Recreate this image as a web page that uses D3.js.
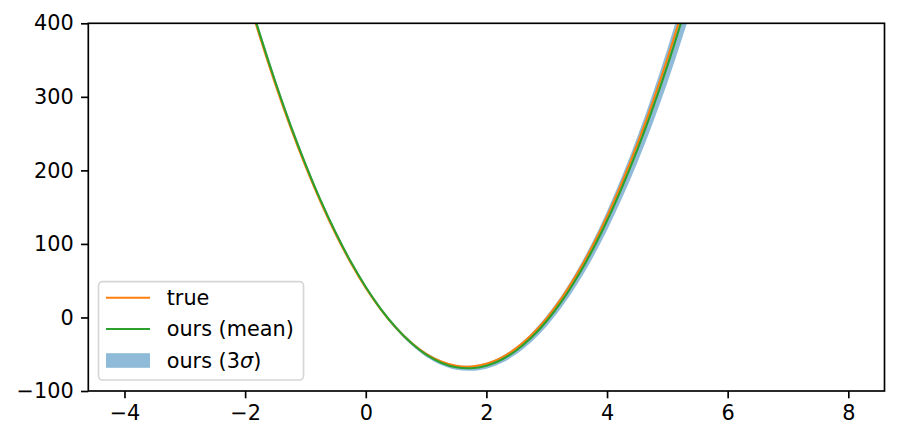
<!DOCTYPE html>
<html>
<head>
<meta charset="utf-8">
<script src="https://cdn.jsdelivr.net/npm/d3@7"></script>
<style>
  html, body { margin: 0; padding: 0; background: #fff; }
  svg { display: block; font-family: "DejaVu Sans", sans-serif; }
</style>
</head>
<body>
<svg id="chart" width="899" height="442"></svg>
<script>
// ---- data ----
const xs = [-2.0,-1.75,-1.5,-1.25,-1.0,-0.75,-0.5,-0.25,0,0.25,0.5,0.75,1.0,1.25,1.5,1.75,2.0,2.25,2.5,2.75,3.0,3.25,3.5,3.75,4.0,4.25,4.5,4.75,5.0,5.25,5.5];
const trueY = [447.6,380.1,317.3,259.2,205.9,157.4,113.6,74.5,40.2,10.7,-14.1,-34.1,-49.4,-60.0,-65.8,-66.8,-63.1,-54.7,-41.4,-23.5,-0.8,26.7,58.9,95.8,137.5,184.0,235.2,291.2,351.8,417.3,487.5];
const meanY = [451,383.5,320.5,262,208.5,159.5,115.5,76,41.5,11.5,-13.8,-34.5,-50.5,-61.5,-67.8,-69.0,-65.6,-57.5,-44.6,-27.0,-4.8,22.2,54.0,90.3,131.5,177.3,227.5,282.5,342.0,407.0,476.0];
const band3 = [6,5,4.5,4,3.5,3,2.8,2.5,2.4,2.4,2.5,2.6,2.8,3,3.2,3.5,4,4.5,5.2,6,7,8,9.5,11,13,15,17.5,20,23,26,29];
const xTicks = [-4,-2,0,2,4,6,8];
const yTicks = [-100,0,100,200,300,400];
const legendLabels = ["true","ours (mean)","ours (3σ)"];

// ---- layout ----
const svg = d3.select("#chart");
const L = 88.3, R = 884.5, T = 23.3, B = 391;
const fs = 20.8;
const x = d3.scaleLinear().domain([-4.6, 8.6]).range([L, R]);
const y = d3.scaleLinear().domain([-100, 400]).range([B, T]);

const C_TRUE = "#ff7f0e", C_MEAN = "#2ca02c", C_BAND = "#1f77b4";

svg.append("defs").append("clipPath").attr("id","clip")
  .append("rect").attr("x", L).attr("y", T).attr("width", R - L).attr("height", B - T);

const pts = xs.map((v, i) => ({x: v, t: trueY[i], m: meanY[i], s: band3[i]}));
const plot = svg.append("g").attr("clip-path", "url(#clip)");
const curve = d3.curveCatmullRom.alpha(0.5);

plot.append("path").datum(pts)
  .attr("d", d3.area().curve(curve)
    .x(d => x(d.x)).y0(d => y(d.m - d.s)).y1(d => y(d.m + d.s)))
  .attr("fill", C_BAND).attr("fill-opacity", 0.5).attr("stroke", "none");

plot.append("path").datum(pts)
  .attr("d", d3.line().curve(curve).x(d => x(d.x)).y(d => y(d.t)))
  .attr("fill", "none").attr("stroke", C_TRUE).attr("stroke-width", 2.1);

plot.append("path").datum(pts)
  .attr("d", d3.line().curve(curve).x(d => x(d.x)).y(d => y(d.m)))
  .attr("fill", "none").attr("stroke", C_MEAN).attr("stroke-width", 2.1);

// ---- axes ----
const xAxis = d3.axisBottom(x).tickValues(xTicks).tickSize(7.3).tickPadding(7.3)
  .tickFormat(d => d < 0 ? "\u2212" + Math.abs(d) : String(d));
const yAxis = d3.axisLeft(y).tickValues(yTicks).tickSize(7.3).tickPadding(7.3)
  .tickFormat(d => d < 0 ? "\u2212" + Math.abs(d) : String(d));

const gx = svg.append("g").attr("transform", `translate(0,${B})`).call(xAxis);
const gy = svg.append("g").attr("transform", `translate(${L},0)`).call(yAxis);
[gx, gy].forEach(g => {
  g.select(".domain").remove();
  g.selectAll(".tick line").attr("stroke", "#000").attr("stroke-width", 1.67);
  g.selectAll(".tick text").attr("fill", "#000").attr("font-size", fs)
    .attr("font-family", "DejaVu Sans");
});

// frame
svg.append("rect").attr("x", L).attr("y", T).attr("width", R - L).attr("height", B - T)
  .attr("fill", "none").attr("stroke", "#000").attr("stroke-width", 1.67);

// ---- legend ----
const lg = svg.append("g");
lg.append("rect").attr("x", 98.5).attr("y", 281.7).attr("width", 205).attr("height", 98.3)
  .attr("rx", 4).attr("fill", "#fff").attr("fill-opacity", 0.8)
  .attr("stroke", "#d6d6d6").attr("stroke-width", 1.67);
const rowY = [297.7, 329, 360.5];
lg.append("line").attr("x1", 106).attr("x2", 150).attr("y1", rowY[0]).attr("y2", rowY[0])
  .attr("stroke", C_TRUE).attr("stroke-width", 2.1);
lg.append("line").attr("x1", 106).attr("x2", 150).attr("y1", rowY[1]).attr("y2", rowY[1])
  .attr("stroke", C_MEAN).attr("stroke-width", 2.1);
lg.append("rect").attr("x", 106).attr("y", rowY[2] - 7.3).attr("width", 44).attr("height", 14.6)
  .attr("fill", C_BAND).attr("fill-opacity", 0.5);

legendLabels.forEach((lab, i) => {
  const t = lg.append("text").attr("x", 166.7).attr("y", rowY[i]).attr("dy", "0.36em")
    .attr("font-size", fs).attr("fill", "#000");
  if (lab.includes("σ")) {
    const parts = lab.split("σ");
    t.append("tspan").text(parts[0]);
    t.append("tspan").attr("font-style", "italic").text("σ");
    t.append("tspan").text(parts[1]);
  } else {
    t.text(lab);
  }
});
</script>
</body>
</html>
